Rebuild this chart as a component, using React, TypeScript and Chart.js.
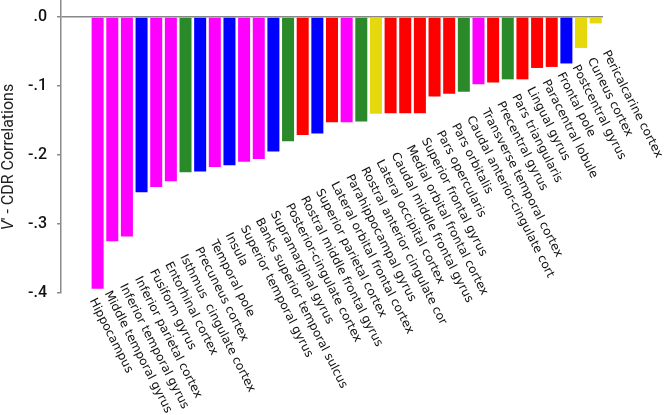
import React, { useEffect, useRef } from 'react';
import { Chart, registerables } from 'chart.js';

Chart.register(...registerables);

const regions = [
  'Hippocampus',
  'Middle temporal gyrus',
  'Inferior temporal gyrus',
  'Inferior parietal cortex',
  'Fusiform gyrus',
  'Entorhinal cortex',
  'Isthmus  cingulate cortex',
  'Precuneus cortex',
  'Temporal pole',
  'Insula',
  'Superior temporal gyrus',
  'Banks superior temporal sulcus',
  'Supramarginal gyrus',
  'Posterior-cingulate cortex',
  'Rostral middle frontal gyrus',
  'Superior parietal cortex',
  'Lateral orbital frontal cortex',
  'Parahippocampal gyrus',
  'Rostral anterior cingulate cor',
  'Lateral occipital cortex',
  'Caudal middle frontal gyrus',
  'Medial orbital frontal cortex',
  'Superior frontal gyrus',
  'Pars opercularis',
  'Pars orbitalis',
  'Caudal anterior-cingulate cort',
  'Transverse temporal cortex',
  'Precentral gyrus',
  'Pars triangularis',
  'Lingual gyrus',
  'Paracentral lobule',
  'Frontal pole',
  'Postcentral gyrus',
  'Cuneus cortex',
  'Pericalcarine cortex',
];

const correlations = [
  -0.394, -0.325, -0.318, -0.254, -0.2465, -0.238, -0.225, -0.224, -0.2175,
  -0.215, -0.21, -0.206, -0.195, -0.18, -0.171, -0.169, -0.1525, -0.1525,
  -0.1515, -0.1405, -0.1395, -0.1395, -0.1395, -0.1155, -0.1115, -0.1085,
  -0.0975, -0.095, -0.0905, -0.0905, -0.074, -0.0725, -0.0675, -0.045, -0.0095,
];

// T temporal, P parietal, C cingulate, F frontal, O occipital
const lobes = [
  'T', 'T', 'T', 'P', 'T', 'T', 'C', 'P', 'T', 'P', 'T', 'T', 'P', 'C', 'F',
  'P', 'F', 'T', 'C', 'O', 'F', 'F', 'F', 'F', 'F', 'C', 'T', 'F', 'C', 'F',
  'F', 'F', 'P', 'O', 'O',
];

const lobeColors: Record<string, string> = {
  T: '#ff00ff',
  P: '#0000ff',
  C: '#2a8a2a',
  F: '#ff0000',
  O: '#e5d80c',
};

const yTickValues = [0, -0.1, -0.2, -0.3, -0.4];
const yTickLabels = ['.0', '-.1', '-.2', '-.3', '-.4'];
const leadingBlanks = 2;

const diagLabels = {
  id: 'diagLabels',
  afterDraw(chart: any) {
    const { ctx, scales, chartArea } = chart;
    const x = scales.x;
    const y = scales.y;
    const n = regions.length;
    const xs = x.getPixelForValue(leadingBlanks);
    const xe = x.getPixelForValue(leadingBlanks + n - 1) + 15;
    const ys = y.getPixelForValue(-0.405);
    const ye = y.getPixelForValue(-0.046);
    ctx.save();
    ctx.font = '12px "DejaVu Sans"';
    ctx.fillStyle = '#111';
    ctx.textAlign = 'left';
    ctx.textBaseline = 'top';
    regions.forEach((r, i) => {
      const t = i / (n - 1);
      ctx.save();
      ctx.translate(xs + (xe - xs) * t, ys + (ye - ys) * t);
      ctx.rotate((63 * Math.PI) / 180);
      ctx.fillText(r, 0, 0);
      ctx.restore();
    });
    ctx.restore();

    // y-axis title with italic V
    ctx.save();
    const cy = (chartArea.top + chartArea.bottom) / 2 + 10;
    ctx.translate(9, cy);
    ctx.rotate(-Math.PI / 2);
    ctx.textBaseline = 'middle';
    ctx.textAlign = 'left';
    ctx.fillStyle = '#222';
    const italic = 'italic 16px Roboto';
    const normal = '16px Roboto';
    ctx.font = italic;
    const w1 = ctx.measureText('V').width;
    ctx.font = normal;
    const rest = '\u2032 - CDR Correlations';
    const w2 = ctx.measureText(rest).width;
    const start = -(w1 + w2) / 2;
    ctx.font = italic;
    ctx.fillText('V', start, 0);
    ctx.font = normal;
    ctx.fillText(rest, start + w1, 0);
    ctx.restore();
  },
};

export default function App() {
  const ref = useRef<HTMLCanvasElement | null>(null);
  useEffect(() => {
    if (!ref.current) return;
    const labels = [...Array(leadingBlanks).fill(''), ...regions];
    const data = [...Array(leadingBlanks).fill(null), ...correlations];
    const colors = [...Array(leadingBlanks).fill('transparent'), ...lobes.map((l) => lobeColors[l])];
    const chart = new Chart(ref.current, {
      type: 'bar',
      data: {
        labels,
        datasets: [
          {
            data,
            backgroundColor: colors,
            borderWidth: 0,
            categoryPercentage: 1,
            barPercentage: 0.82,
          },
        ],
      },
      options: {
        responsive: false,
        animation: false,
        layout: { padding: { left: 0, top: 1, right: 65, bottom: 122 } },
        plugins: { legend: { display: false }, tooltip: { enabled: false } },
        scales: {
          x: { type: 'category', display: false, offset: true },
          y: {
            min: -0.4,
            max: 0.023,
            afterBuildTicks: (scale: any) => {
              scale.ticks = yTickValues.map((v) => ({ value: v }));
            },
            afterFit: (scale: any) => {
              scale.width = 61;
              scale.paddingTop = 0;
              scale.paddingBottom = 0;
            },
            border: { display: true, color: '#8a8a8a', width: 1.5 },
            grid: {
              color: (c: any) => (c.tick && c.tick.value === 0 ? '#888' : 'transparent'),
              lineWidth: 1.5,
              tickColor: '#8a8a8a',
              tickLength: 4,
              drawTicks: true,
            },
            ticks: {
              padding: 10,
              color: '#111',
              font: { family: 'Roboto', size: 16, weight: '500' },
              callback: (v: any) => {
                const idx = yTickValues.findIndex((t) => Math.abs(t - Number(v)) < 1e-9);
                return idx >= 0 ? yTickLabels[idx] : '';
              },
            },
          },
        },
      },
      plugins: [diagLabels],
    });
    return () => chart.destroy();
  }, []);
  return (
    <div style={{ position: 'absolute', left: 0, top: 0, width: 668, height: 415 }}>
      <canvas ref={ref} width={668} height={415} />
    </div>
  );
}
